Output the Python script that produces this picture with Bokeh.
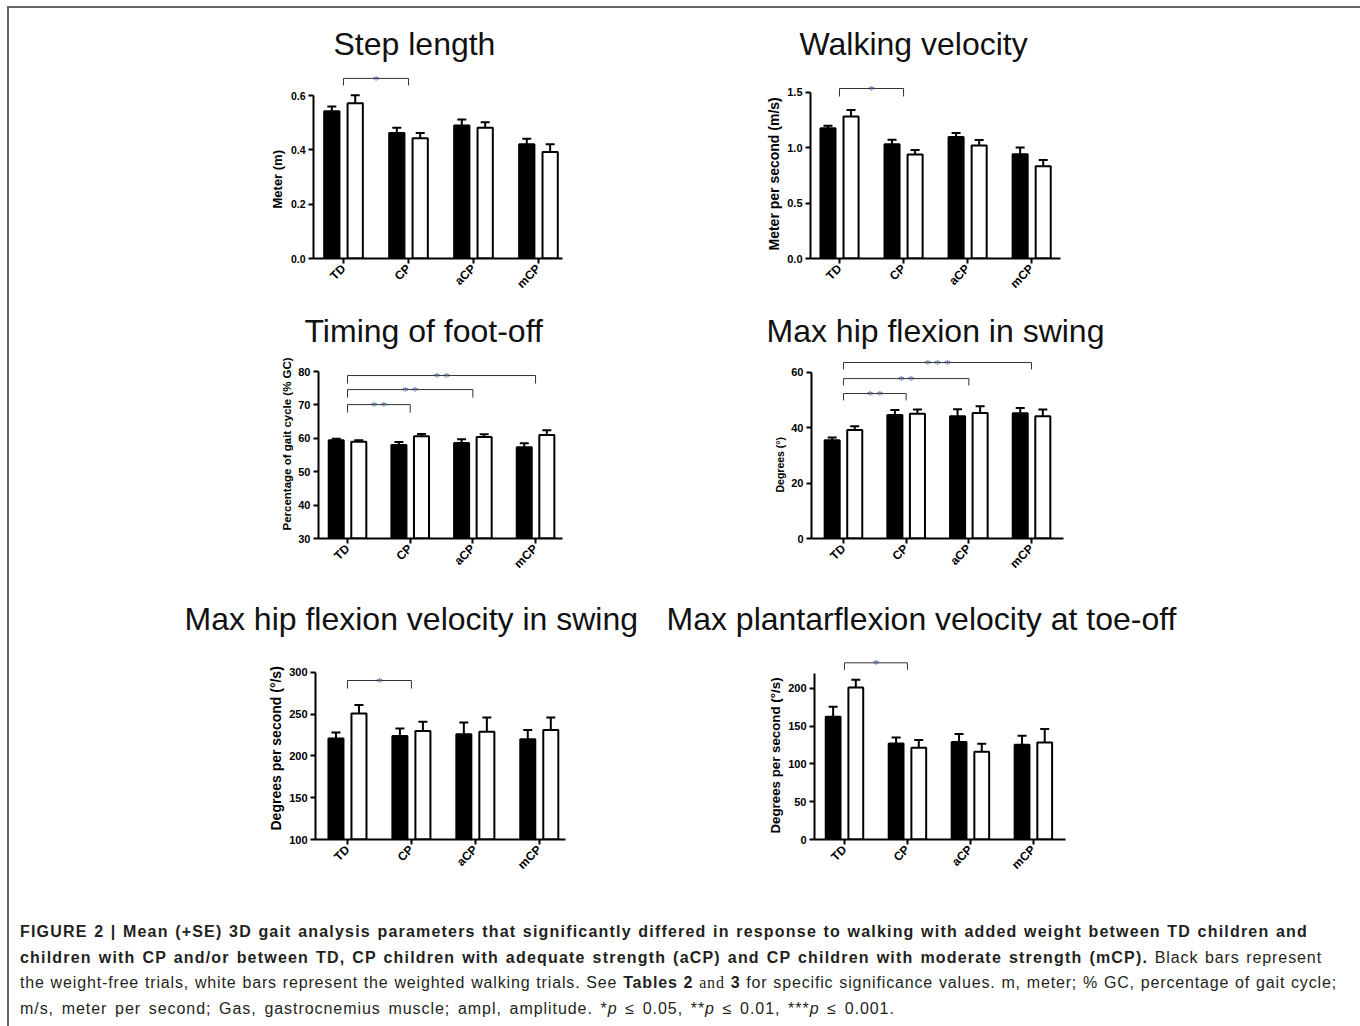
import math
from bokeh.plotting import figure
from bokeh.models import (ColumnDataSource, FixedTicker, Title, Range1d, Div,
                          PrintfTickFormatter, Spacer)
from bokeh.layouts import column, row
from bokeh.embed import file_html
from bokeh.resources import INLINE

categories = ["TD", "CP", "aCP", "mCP"]

# Step length (m): weight-free (black) and weighted (white), mean and SE
step_free = [0.542, 0.462, 0.490, 0.421]
step_free_se = [0.018, 0.019, 0.022, 0.020]
step_weighted = [0.572, 0.443, 0.481, 0.392]
step_weighted_se = [0.029, 0.019, 0.021, 0.029]
step_brackets = [("TD", "CP", 0.663, "*")]
step_yticks = [0.0, 0.2, 0.4, 0.6]

# Walking velocity (m/s)
vel_free = [1.176, 1.032, 1.098, 0.942]
vel_free_se = [0.024, 0.042, 0.036, 0.060]
vel_weighted = [1.284, 0.939, 1.020, 0.834]
vel_weighted_se = [0.057, 0.042, 0.051, 0.057]
vel_brackets = [("TD", "CP", 1.536, "*")]
vel_yticks = [0.0, 0.5, 1.0, 1.5]

# Timing of foot-off (% GC)
fo_free = [59.4, 58.0, 58.6, 57.3]
fo_free_se = [0.5, 0.9, 1.1, 1.2]
fo_weighted = [59.0, 60.6, 60.4, 61.0]
fo_weighted_se = [0.4, 0.7, 0.8, 1.4]
fo_brackets = [("TD", "CP", 70.1, "**"), ("TD", "aCP", 74.6, "**"),
               ("TD", "mCP", 78.8, "**")]
fo_yticks = [30, 40, 50, 60, 70, 80]

# Max hip flexion in swing (deg)
hip_free = [35.5, 44.6, 44.2, 45.3]
hip_free_se = [1.0, 1.8, 2.5, 1.9]
hip_weighted = [39.2, 45.1, 45.4, 44.2]
hip_weighted_se = [1.4, 1.5, 2.4, 2.4]
hip_brackets = [("TD", "CP", 52.4, "**"), ("TD", "aCP", 57.8, "**"),
                ("TD", "mCP", 63.6, "***")]
hip_yticks = [0, 20, 40, 60]

# Max hip flexion velocity in swing (deg/s)
hipv_free = [221, 224, 226, 220]
hipv_free_se = [7, 9, 14, 11]
hipv_weighted = [251, 230, 229, 231]
hipv_weighted_se = [10, 11, 17, 15]
hipv_brackets = [("TD", "CP", 290.4, "*")]
hipv_yticks = [100, 150, 200, 250, 300]

# Max plantarflexion velocity at toe-off (deg/s)
pfv_free = [162.6, 127.3, 129.0, 125.6]
pfv_free_se = [13.2, 7.9, 10.6, 11.8]
pfv_weighted = [201.3, 121.6, 116.3, 128.6]
pfv_weighted_se = [10.2, 10.1, 10.6, 17.7]
pfv_brackets = [("TD", "CP", 234.0, "*")]
pfv_yticks = [0, 50, 100, 150, 200]

FONT = "Liberation Sans"
STAR_COLOR = "#46568a"


def make_panel(title, ylabel, free, free_se, wtd, wtd_se, brackets, yticks, cfg):
    p = figure(output_backend="svg", toolbar_location=None,
               frame_width=cfg["fw"], frame_height=cfg["fh"],
               min_border_left=cfg["L"], min_border_right=cfg["R"],
               min_border_top=cfg["T"], min_border_bottom=cfg["B"],
               x_range=Range1d(*cfg["xr"]), y_range=Range1d(*cfg["yr"]),
               background_fill_color="white", border_fill_color="white")
    p.outline_line_color = None
    p.xgrid.visible = False
    p.ygrid.visible = False

    pos = {c: i + 1 for i, c in enumerate(categories)}
    xs = [pos[c] for c in categories]
    d = cfg["dodge"]
    base = cfg["yr"][0]
    for vals, ses, dx, fill in ((free, free_se, -d, "black"), (wtd, wtd_se, d, "white")):
        src = ColumnDataSource(dict(x=[x + dx for x in xs], top=vals,
                                    up=[v + s for v, s in zip(vals, ses)]))
        p.vbar(x="x", top="top", bottom=base, width=cfg["bw"], fill_color=fill,
               line_color="black", line_width=2, source=src)
        p.segment(x0="x", y0="top", x1="x", y1="up", line_color="black",
                  line_width=2, source=src)
        p.scatter(x="x", y="up", marker="dash", size=9, line_color="black",
                  line_width=2, source=src)

    leg = cfg["leg"]
    bxs, bys, tx, ty, tt = [], [], [], [], []
    for a, b, lvl, lab in brackets:
        bxs.append([pos[a], pos[a], pos[b], pos[b]])
        bys.append([lvl - leg, lvl, lvl, lvl - leg])
        tx.append((pos[a] + pos[b]) / 2)
        ty.append(lvl)
        tt.append(" ".join(lab))
    p.multi_line(bxs, bys, line_color="#333333", line_width=1)
    p.text(x=tx, y=ty, text=tt, text_align="center", text_baseline="alphabetic",
           text_font_size="13px", text_color=STAR_COLOR, text_font=FONT, y_offset=1)

    # axes
    xa = p.xaxis[0]
    ya = p.yaxis[0]
    xa.ticker = FixedTicker(ticks=xs)
    xa.major_label_overrides = {pos[c]: c for c in categories}
    xa.major_label_orientation = math.pi / 4
    ya.ticker = FixedTicker(ticks=yticks)
    ya.formatter = PrintfTickFormatter(format=cfg["fmt"])
    ya.bounds = (yticks[0], cfg.get("ytop", yticks[-1]))
    for ax in (xa, ya):
        ax.axis_line_width = 2
        ax.axis_line_color = "black"
        ax.major_tick_line_width = 2
        ax.major_tick_line_color = "black"
        ax.major_tick_out = 5
        ax.major_tick_in = 0
        ax.minor_tick_line_color = None
        ax.major_label_text_font = FONT
        ax.major_label_text_font_style = "bold"
        ax.major_label_text_color = "black"
        ax.major_label_standoff = 3
    ya.major_label_text_font_size = cfg["tick_fs"]
    xa.major_label_text_font_size = "12px"

    p.title.text = title
    p.title.align = "left"
    p.title.offset = cfg["t_off"]
    p.title.text_font = FONT
    p.title.text_font_size = "32px"
    p.title.text_font_style = "normal"
    p.title.text_color = "#111111"
    p.title.standoff = 4

    p.add_layout(Title(text=ylabel, align="left", offset=cfg["yl_off"],
                       text_font=FONT, text_font_size=cfg["yl_fs"],
                       text_font_style="bold", text_color="black", standoff=6),
                 "left")
    return p


cfg1 = dict(fw=249, fh=195, L=304, R=8, T=55, B=50, xr=(0.538, 4.37),
            yr=(0.0, 0.718), fmt="%.1f", dodge=0.18, bw=0.235, leg=0.026,
            tick_fs="10.5px", t_off=20, yl_off=50, yl_fs="13px")
cfg2 = dict(fw=250, fh=195, L=240, R=294, T=55, B=50, xr=(0.547, 4.45),
            yr=(0.0, 1.762), fmt="%.1f", dodge=0.18, bw=0.235, leg=0.072,
            tick_fs="11px", t_off=-11, yl_off=8, yl_fs="14px")
cfg3 = dict(fw=244, fh=188, L=309, R=8, T=42, B=58, xr=(0.537, 4.43),
            yr=(30, 86.3), fmt="%d", dodge=0.18, bw=0.24, leg=2.4,
            tick_fs="11px", t_off=-14, yl_off=8, yl_fs="11.5px")
cfg4 = dict(fw=252, fh=188, L=241, R=291, T=42, B=58, xr=(0.49, 4.51),
            yr=(0, 67.95), fmt="%d", dodge=0.18, bw=0.24, leg=2.5,
            tick_fs="11px", t_off=-45, yl_off=46, yl_fs="10.5px")
cfg5 = dict(fw=250, fh=201, L=306, R=80, T=42, B=75, xr=(0.5, 4.41),
            yr=(100, 340.7), fmt="%d", dodge=0.18, bw=0.235, leg=9.6,
            tick_fs="11px", t_off=-131, yl_off=9, yl_fs="14px")
cfg6 = dict(fw=251, fh=201, L=169, R=289, T=42, B=75, xr=(0.524, 4.51),
            yr=(0, 266.2), fmt="%d", dodge=0.18, bw=0.235, leg=9.3,
            tick_fs="11px", t_off=-148, yl_off=6, yl_fs="13.3px", ytop=220)

p1 = make_panel("Step length", "Meter (m)", step_free, step_free_se,
                step_weighted, step_weighted_se, step_brackets, step_yticks, cfg1)
p2 = make_panel("Walking velocity", "Meter per second (m/s)", vel_free, vel_free_se,
                vel_weighted, vel_weighted_se, vel_brackets, vel_yticks, cfg2)
p3 = make_panel("Timing of foot-off", "Percentage of gait cycle (% GC)", fo_free,
                fo_free_se, fo_weighted, fo_weighted_se, fo_brackets, fo_yticks, cfg3)
p4 = make_panel("Max hip flexion in swing", "Degrees (°)", hip_free, hip_free_se,
                hip_weighted, hip_weighted_se, hip_brackets, hip_yticks, cfg4)
p5 = make_panel("Max hip flexion velocity in swing", "Degrees per second (°/s)",
                hipv_free, hipv_free_se, hipv_weighted, hipv_weighted_se,
                hipv_brackets, hipv_yticks, cfg5)
p6 = make_panel("Max plantarflexion velocity at toe-off", "Degrees per second (°/s)",
                pfv_free, pfv_free_se, pfv_weighted, pfv_weighted_se,
                pfv_brackets, pfv_yticks, cfg6)

JL = "text-align:justify;text-align-last:justify;white-space:nowrap;"
BS = "letter-spacing:1.2px;"
caption_html = (
    "<div style=\"font-family:'Liberation Sans',Arial,sans-serif;font-size:16px;"
    "line-height:25.7px;color:#231f20;padding-left:6px;\">"
    "<div style=\"" + JL + "width:1288px;letter-spacing:1.2px;\"><b>FIGURE 2 | Mean (+SE) 3D gait "
    "analysis parameters that significantly differed in response to walking with added "
    "weight between TD children and</b></div>"
    "<div style=\"" + JL + "width:1302px;letter-spacing:0.9px;\"><b style=\"" + BS + "\">children "
    "with CP and/or between TD, CP children with adequate strength (aCP) and CP children "
    "with moderate strength (mCP).</b> Black bars represent</div>"
    "<div style=\"" + JL + "width:1317px;letter-spacing:0.85px;\">the weight-free trials, white "
    "bars represent the weighted walking trials. See <b>Tables 2</b> "
    "<span style=\"font-family:'Liberation Serif',serif\">and</span> <b>3</b> for specific "
    "significance values. m, meter; % GC, percentage of gait cycle;</div>"
    "<div style=\"white-space:nowrap;letter-spacing:0.95px;word-spacing:2.3px;\">m/s, meter "
    "per second; Gas, gastrocnemius muscle; ampl, amplitude. *<i>p</i> \u2264 0.05, "
    "**<i>p</i> \u2264 0.01, ***<i>p</i> \u2264 0.001.</div>"
    "</div>"
)
caption = Div(text=caption_html, width=1345, height=103)

framed = column(row(p1, p2), row(p3, p4), row(p5, p6), caption,
                styles={"border-top": "2px solid #666666",
                        "border-left": "2px solid #666666",
                        "border-right": "2px solid #666666"})
layout = column(Spacer(height=6), row(Spacer(width=7), framed))

open("out.html", "w").write(file_html(layout, INLINE, title="Figure 2"))
